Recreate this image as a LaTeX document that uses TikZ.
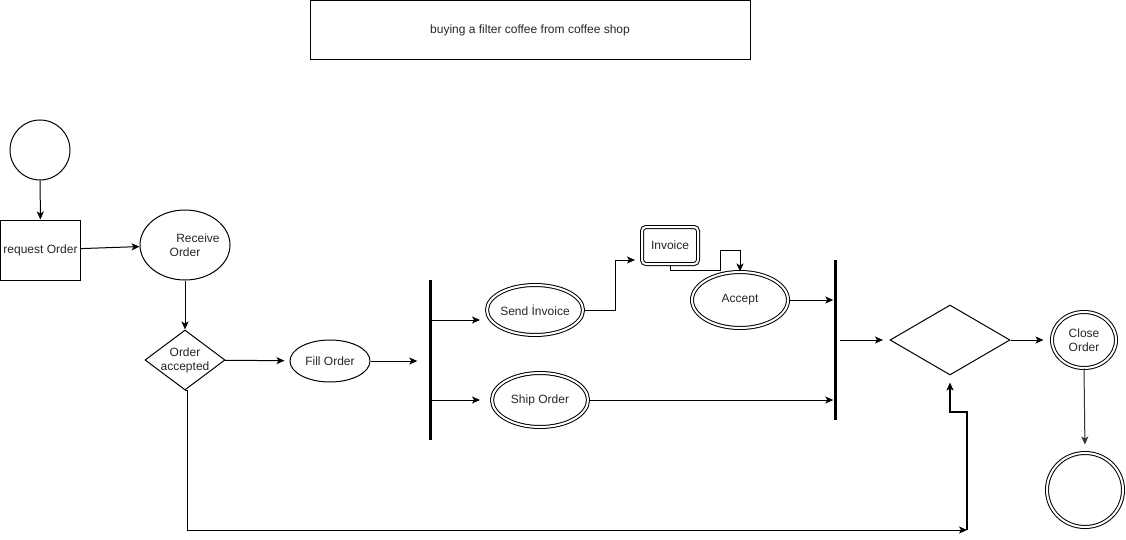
\documentclass[tikz,border=0pt]{standalone}
\usepackage{fontspec}
\setmainfont{Liberation Sans}
\usetikzlibrary{shapes.geometric,arrows.meta}
\begin{document}
\begin{tikzpicture}[x=1pt,y=-1pt,
  every node/.style={font=\fontsize{12}{14}\selectfont, text=black!85, align=center, inner sep=0pt},
  flow/.style={line width=1pt, -{Stealth[length=8pt,width=7pt,inset=2pt]}},
  box/.style={draw, line width=1pt, rectangle},
  act/.style={draw, line width=1pt, ellipse},
  dact/.style={act, double, double distance=2pt},
  dcirc/.style={dact},
  dbox/.style={box, rounded corners=4pt, double, double distance=2pt},
  decision/.style={draw, line width=1pt, diamond},
  bar/.style={fill=black, rectangle, minimum width=3pt}
]
\useasboundingbox (0,0) rectangle (1126,540);

% title
\node[box, minimum width=440pt, minimum height=59pt] (title) at (530,30.5) {buying a filter coffee from coffee shop};

% initial part
\node[draw, circle, line width=1pt, minimum size=60pt] (start) at (40,150) {};
\node[box, minimum width=80pt, minimum height=60pt] (req) at (40.5,250) {request Order};
\node[act, minimum width=90pt, minimum height=70pt,
      label=center:{\hspace*{26pt}Receive\\Order}] (recv) at (185,245) {};
\node[decision, minimum width=80pt, minimum height=60pt,
      label=center:{Order\\accepted}] (oacc) at (185,360) {};
\node[act, minimum width=80pt, minimum height=42pt,
      label=center:{Fill Order}] (fill) at (330,361) {};

\draw[flow] (start) -- (req);
\draw[flow] (req) -- (recv);
\draw[flow] (recv) -- (oacc);
\draw[flow, shorten >=5pt] (oacc) -- (fill);

% fork
\node[bar, minimum height=160pt] (fork) at (430,360) {};
\draw[flow, shorten >=11pt] (fill) -- (fill -| fork.west);

\node[dact, minimum width=96pt, minimum height=50pt,
      label=center:{Send İnvoice}] (send) at (535,310) {};
\node[dact, minimum width=96pt, minimum height=54pt,
      label=center:{Ship Order}] (ship) at (540,400) {};
\node[dbox, minimum width=56pt, minimum height=37pt] (inv) at (670,245.5) {Invoice};
\node[dact, minimum width=96pt, minimum height=56pt,
      label=center:{Accept}] (acc) at (740,300) {};

\coordinate (f1) at (430,320);
\coordinate (f2) at (430,400);
\coordinate (s1) at (480,320);
\coordinate (s2) at (480,400);
\draw[flow] (f1) -- (s1);
\draw[flow] (f2) -- (s2);

\coordinate (invin) at (635,260);
\draw[flow] (send.east) -- (615,310) |- (invin);
\coordinate (invout) at (670,266);
\draw[flow] (invout) -- (670,270) -- (720.5,270) -- (720.5,250.5) -- (740,250.5) -- (acc.north);

% join
\node[bar, minimum height=160pt] (join) at (835,340) {};
\draw[flow] (acc.east) -- (acc.east -| join.west);
\draw[flow] (ship.east) -- (ship.east -| join.west);

% decision and end
\node[decision, minimum width=120pt, minimum height=70pt] (dec) at (950,340) {};
\coordinate (j1) at (840,340);
\coordinate (d1) at (883,340);
\draw[flow] (j1) -- (d1);

\node[dcirc, minimum width=64pt, minimum height=56pt,
      label=center:{Close\\Order}] (close) at (1084,340) {};
\draw[flow, shorten >=8pt] (dec.east) -- (close.west);

\node[dcirc, minimum width=76pt, minimum height=74pt] (stop) at (1085,490) {};
\draw[flow, draw=black!80, fill=black!80, shorten >=8pt] (close.south) -- (stop.north);

% rejected-order path
\coordinate (loop) at (967,530);
\draw[flow] (oacc.south) -- ++(2,0) -- (187,530) -- (loop);
\draw[flow, line width=1.6pt, shorten >=7pt] (loop) -- (967,412) -| (dec.south);
\end{tikzpicture}
\end{document}
